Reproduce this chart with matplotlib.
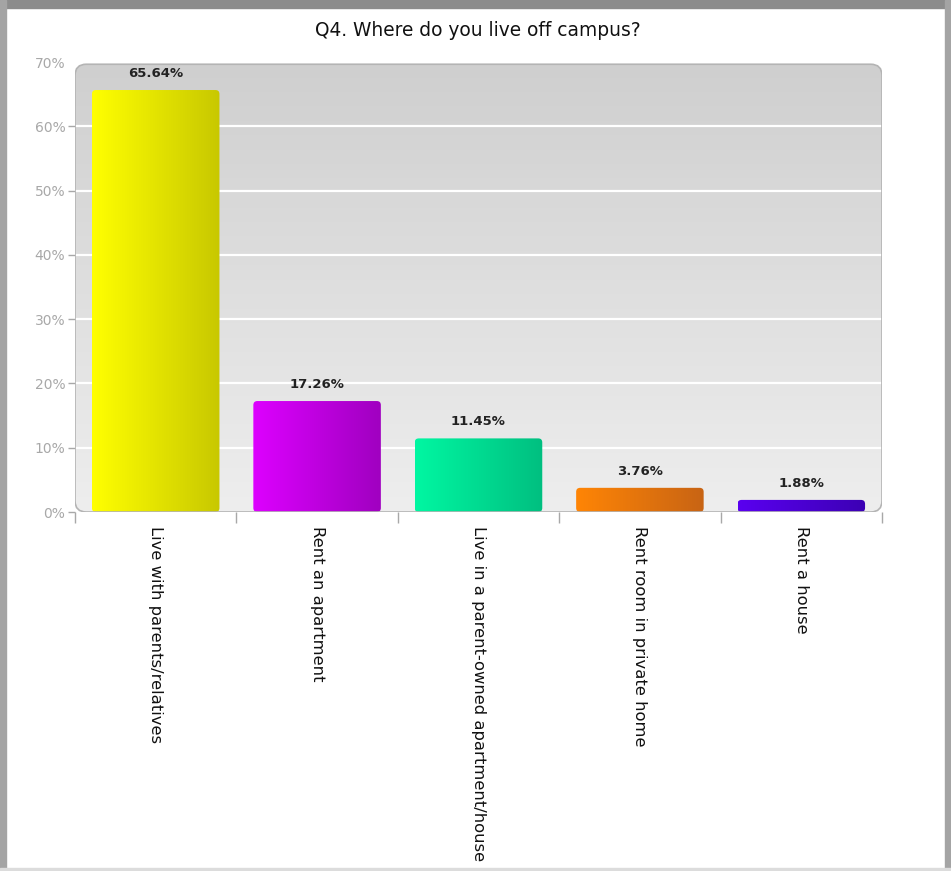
import numpy as np
import matplotlib
matplotlib.use("Agg")
import matplotlib.pyplot as plt
from matplotlib.patches import FancyBboxPatch, Rectangle
from matplotlib.colors import LinearSegmentedColormap

# survey answers
categories = ["Live with parents/relatives", "Rent an apartment",
              "Live in a parent-owned apartment/house", "Rent room in private home",
              "Rent a house"]
percents = [65.64, 17.26, 11.45, 3.76, 1.88]
bar_light = ["#ffff00", "#dd00ff", "#00f7a2", "#ff8505", "#5a00f0"]
bar_dark = ["#c8c800", "#a000c0", "#00bf80", "#c86414", "#3c00b4"]
yticks = [0, 10, 20, 30, 40, 50, 60, 70]

W, H = 951, 871
fig = plt.figure(figsize=(W / 100, H / 100), dpi=100)
fig.patch.set_facecolor("white")

# window frame
def frect(x, y, w, h, c):
    fig.patches.append(Rectangle((x / W, 1 - (y + h) / H), w / W, h / H,
                                 transform=fig.transFigure, color=c, zorder=0))

frect(0, 0, W, 8, "#8c8c8c")
frect(0, 0, 6, H, "#a4a4a4")
frect(W - 6, 0, 6, H, "#a4a4a4")
frect(0, H - 3, W, 3, "#dcdcdc")

L, R, T, B = 75, 882, 62, 512
ax = fig.add_axes([L / W, 1 - B / H, (R - L) / W, (B - T) / H])
ax.set_xlim(-0.5, len(categories) - 0.5)
ax.set_ylim(0, 70)
ax.patch.set_visible(False)
for s in ax.spines.values():
    s.set_visible(False)

# rounded plot panel with vertical gray gradient
aw, ah = R - L, B - T
panel = FancyBboxPatch((0, 0), 1, 0.995, boxstyle="round,pad=0,rounding_size=0.014",
                       mutation_aspect=aw / ah, transform=ax.transAxes,
                       facecolor="none", edgecolor="#b4b4b4", lw=1.2, zorder=3)
ax.add_patch(panel)
bg_cmap = LinearSegmentedColormap.from_list("bg", ["#eeeeee", "#cfcfcf"])
bg = ax.imshow(np.linspace(0, 1, 256).reshape(-1, 1), cmap=bg_cmap, origin="lower",
               extent=(0, 1, 0, 1), transform=ax.transAxes, aspect="auto", zorder=0)
bg.set_clip_path(panel)

for v in yticks[1:-1]:
    ax.plot([0, 1], [v / 70, v / 70], transform=ax.transAxes, color="white", lw=1.6, zorder=1)

# gradient bars
x = np.arange(len(categories))
bw = 0.79
ppx = 1 / (aw / len(categories))
ppy = 70 / ah
grad = np.linspace(0, 1, 256).reshape(1, -1)
for i, v in enumerate(percents):
    bar = FancyBboxPatch((x[i] - bw / 2, 0), bw, v,
                         boxstyle="round,pad=0,rounding_size=%f" % (4 * ppx),
                         mutation_aspect=ppy / ppx, facecolor="none", edgecolor="none", zorder=2)
    ax.add_patch(bar)
    cm = LinearSegmentedColormap.from_list("b%d" % i, [bar_light[i], bar_dark[i]])
    im = ax.imshow(grad, cmap=cm, extent=(x[i] - bw / 2, x[i] + bw / 2, 0, v),
                   aspect="auto", zorder=2)
    im.set_clip_path(bar)
    ax.text(x[i], v + 1.6, "%.2f%%" % v, ha="center", va="bottom",
            fontsize=9.5, fontweight="bold", color="#222222", zorder=4)

ax.set_xlim(-0.5, len(categories) - 0.5)
ax.set_ylim(0, 70)

ax.set_yticks(yticks)
ax.set_yticklabels(["%d%%" % t for t in yticks], color="#a8a8a8", fontsize=10)
ax.tick_params(axis="y", length=5, color="#a8a8a8", width=1, pad=2)
ax.yaxis.get_major_ticks()[-1].tick1line.set_visible(False)

ax.set_xticks(x)
ax.set_xticklabels(categories, rotation=270, fontsize=11.8, color="#111111", va="top")
ax.tick_params(axis="x", length=0, pad=10)
ax.set_xticks(np.arange(-0.5, len(categories)), minor=True)
ax.tick_params(axis="x", which="minor", length=8, color="#a8a8a8", width=1)

fig.text(478 / W, 1 - 30 / H, "Q4. Where do you live off campus?", ha="center",
         va="center", fontsize=13.4, color="#111111")

fig.savefig("out.png", dpi=100)
